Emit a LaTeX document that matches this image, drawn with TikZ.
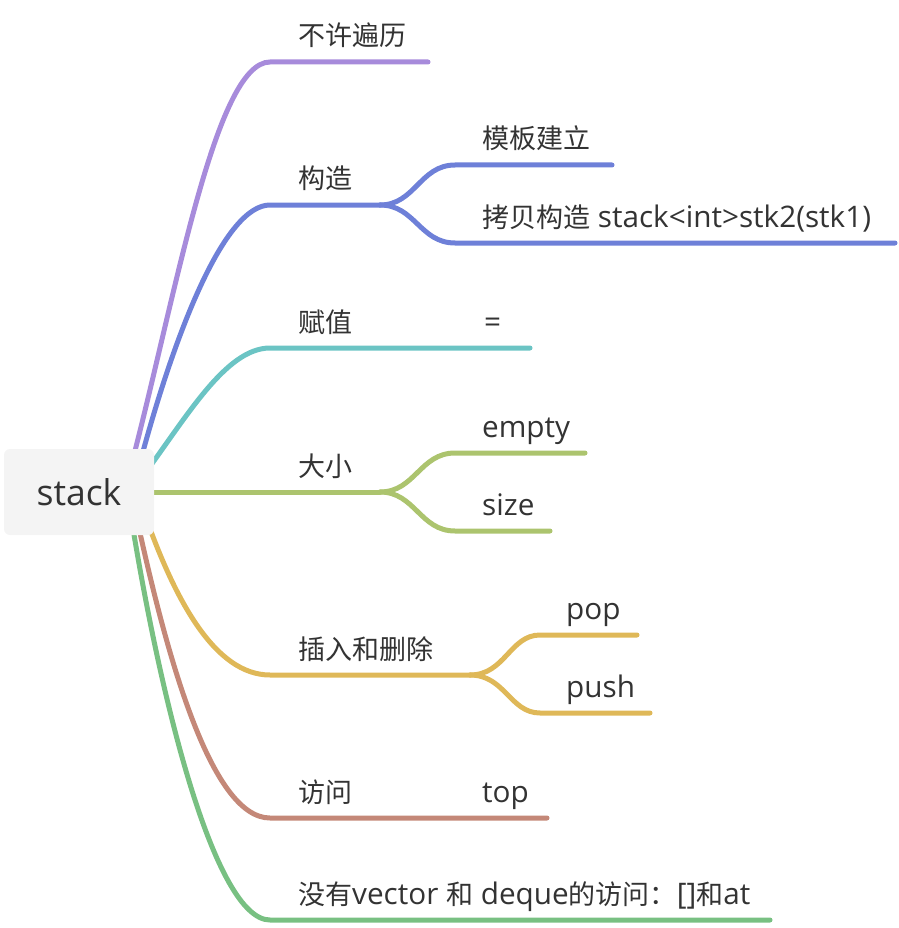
\documentclass[tikz,border=0pt]{standalone}
\usepackage{fontspec}
\setmainfont{Open Sans}[Scale=1.1]
\newfontfamily\cjk{Noto Sans CJK SC}
\usetikzlibrary{backgrounds}
\definecolor{txt}{RGB}{51,51,51}
\definecolor{rootbg}{RGB}{244,244,244}
\definecolor{cPurple}{RGB}{167,139,219}
\definecolor{cBlue}{RGB}{110,128,216}
\definecolor{cTeal}{RGB}{107,196,196}
\definecolor{cOlive}{RGB}{172,196,110}
\definecolor{cYellow}{RGB}{223,184,88}
\definecolor{cBrown}{RGB}{196,136,120}
\definecolor{cGreen}{RGB}{120,192,130}
\begin{document}
\begin{tikzpicture}[x=1pt,y=-1pt]
\tikzstyle{lbl}=[anchor=base west, inner sep=0pt, text=txt, font=\fontsize{27}{31}\selectfont]
\tikzstyle{br}=[line width=5pt, line cap=round]
\useasboundingbox (0,0) rectangle (898,928);

\node[fill=rootbg, rounded corners=6pt, minimum width=150pt, minimum height=86pt,
  text=txt, font=\fontsize{32.3}{38}\selectfont] (root) at (79,492) {stack};

% labels
\node[lbl] (bianli) at (298,46) {\cjk 不许遍历};
\node[lbl] (gouzao) at (298,189) {\cjk 构造};
\node[lbl] (muban) at (482,149) {\cjk 模板建立};
\node[lbl] (kaobei) at (482,227) {{\cjk 拷贝构造} stack<int>stk2(stk1)};
\node[lbl] (fuzhi) at (298,332) {\cjk 赋值};
\node[lbl] (deng) at (484,332) {=};
\node[lbl] (daxiao) at (298,476) {\cjk 大小};
\node[lbl] (empty) at (482,437) {empty};
\node[lbl] (size) at (482,515) {size};
\node[lbl] (charu) at (298,659) {\cjk 插入和删除};
\node[lbl] (pop) at (566,619) {pop};
\node[lbl] (push) at (566,697) {push};
\node[lbl] (fangwen) at (298,802) {\cjk 访问};
\node[lbl] (top) at (482,802) {top};
\node[lbl] (meiyou) at (298,904) {{\cjk 没有}vector {\cjk 和} deque{\cjk 的访问：}[]{\cjk 和}at};

% line ends
\coordinate (r1) at (130,470); \coordinate (r2) at (138,470);
\coordinate (r3) at (140,480); \coordinate (r4) at (140,492);
\coordinate (r5) at (145,515); \coordinate (r6) at (135,510);
\coordinate (r7) at (130,510);
\coordinate (bianliA) at (270,62);  \coordinate (bianliB) at (428,62);
\coordinate (gouzaoA) at (270,205); \coordinate (gouzaoB) at (380,205);
\coordinate (mubanA) at (455,165);  \coordinate (mubanB) at (612,165);
\coordinate (kaobeiA) at (455,243); \coordinate (kaobeiB) at (895,243);
\coordinate (fuzhiA) at (270,348);  \coordinate (fuzhiB) at (530,348);
\coordinate (daxiaoB) at (380,492);
\coordinate (emptyA) at (455,453);  \coordinate (emptyB) at (585,453);
\coordinate (sizeA) at (455,531);   \coordinate (sizeB) at (550,531);
\coordinate (charuA) at (270,675);  \coordinate (charuB) at (470,675);
\coordinate (popA) at (540,635);    \coordinate (popB) at (637,635);
\coordinate (pushA) at (540,713);   \coordinate (pushB) at (650,713);
\coordinate (fangwenA) at (270,818); \coordinate (fangwenB) at (547,818);
\coordinate (meiyouA) at (270,920); \coordinate (meiyouB) at (770,920);

\begin{scope}[on background layer]
\draw[br, cPurple] (r1) .. controls (175,300) and (215,62) .. (bianliA) -- (bianliB);
\draw[br, cBlue] (r2) .. controls (175,330) and (225,205) .. (gouzaoA) -- (gouzaoB);
\draw[br, cBlue] (gouzaoB) .. controls (415,205) and (420,165) .. (mubanA) -- (mubanB);
\draw[br, cBlue] (gouzaoB) .. controls (415,205) and (420,243) .. (kaobeiA) -- (kaobeiB);
\draw[br, cTeal] (r3) .. controls (185,420) and (225,348) .. (fuzhiA) -- (fuzhiB);
\draw[br, cOlive] (r4) -- (daxiaoB);
\draw[br, cOlive] (daxiaoB) .. controls (415,492) and (420,453) .. (emptyA) -- (emptyB);
\draw[br, cOlive] (daxiaoB) .. controls (415,492) and (420,531) .. (sizeA) -- (sizeB);
\draw[br, cYellow] (r5) .. controls (175,600) and (215,675) .. (charuA) -- (charuB);
\draw[br, cYellow] (charuB) .. controls (505,675) and (510,635) .. (popA) -- (popB);
\draw[br, cYellow] (charuB) .. controls (505,675) and (510,713) .. (pushA) -- (pushB);
\draw[br, cBrown] (r6) .. controls (165,650) and (210,818) .. (fangwenA) -- (fangwenB);
\draw[br, cGreen] (r7) .. controls (160,700) and (215,920) .. (meiyouA) -- (meiyouB);
\end{scope}
\end{tikzpicture}
\end{document}
